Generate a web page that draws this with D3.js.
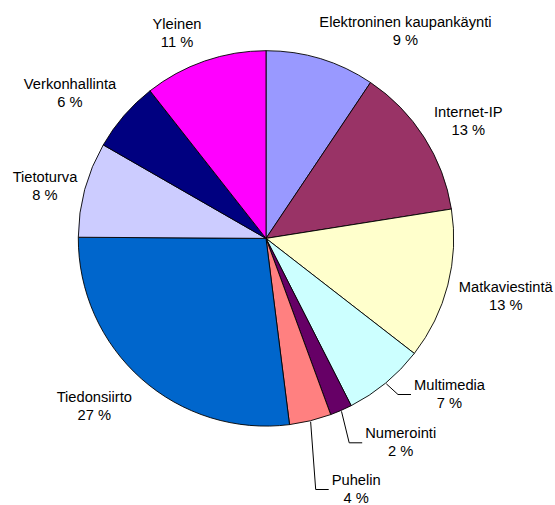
<!DOCTYPE html>
<html>
<head>
<meta charset="utf-8">
<script src="https://cdn.jsdelivr.net/npm/d3@7"></script>
<style>
  html, body { margin: 0; padding: 0; background: #fff; }
  svg { display: block; }
  text { font-family: "Liberation Sans", Arial, sans-serif; font-size: 14.7px; fill: #000; }
</style>
</head>
<body>
<svg id="chart" width="555" height="505"></svg>
<script>
// ---- data ----
const categories = ["Elektroninen kaupankäynti", "Internet-IP", "Matkaviestintä", "Multimedia",
  "Numerointi", "Puhelin", "Tiedonsiirto", "Tietoturva", "Verkonhallinta", "Yleinen"];
const values = [9.4, 13.1, 13.0, 7.0, 1.9, 3.6, 27.1, 8.2, 6.1, 10.6];
const colors = ["#9999FF", "#993366", "#FFFFCC", "#CCFFFF", "#660066",
  "#FF8080", "#0066CC", "#CCCCFF", "#000080", "#FF00FF"];

// ---- layout (label anchor offsets from pie centre: centre x, first baseline) ----
const labelOffsets = [[139.5, -211.1], [202.3, -121.1], [239.8, 53.9], [183.5, 151.6],
  [134.7, 199.9], [90.2, 246.6], [-171.7, 163.3], [-221, -56.7], [-196, -149.9], [-89, -209.1]];
const hasLeader = [false, false, false, true, true, true, false, false, false, false];

const W = 555, H = 505;
const cx = 266, cy = 238.4, R = 187.7;
const lineGap = 18;

const svg = d3.select("#chart");
const g = svg.append("g").attr("transform", `translate(${cx},${cy})`);

const total = d3.sum(values);
const data = categories.map((c, i) => ({ name: c, value: values[i], color: colors[i], i }));

const pie = d3.pie().value(d => d.value).sort(null);
const arcs = pie(data);
const arc = d3.arc().innerRadius(0).outerRadius(R);

g.selectAll("path.slice").data(arcs).join("path")
  .attr("class", "slice")
  .attr("d", arc)
  .attr("fill", d => d.data.color)
  .attr("stroke", "#000")
  .attr("stroke-width", 0.9)
  .attr("stroke-linejoin", "round");

function measure(str) {
  const t = svg.append("text").text(str);
  const w = t.node().getComputedTextLength();
  t.remove();
  return w;
}

// leaders
arcs.forEach((a, k) => {
  if (!hasLeader[k]) return;
  const mid = (a.startAngle + a.endAngle) / 2;
  const p0 = [Math.sin(mid) * (R + 1), -Math.cos(mid) * (R + 1)];
  const [lx, ly] = labelOffsets[k];
  const tw = measure(a.data.name);
  const endX = lx - tw / 2 - 3;
  const y = ly + 4.5;
  const elbowX = endX - 13;
  g.append("path")
    .attr("d", d3.line()([p0, [elbowX, y], [endX, y]]))
    .attr("fill", "none")
    .attr("stroke", "#000")
    .attr("stroke-width", 1);
});

// labels
arcs.forEach((a, k) => {
  const [lx, ly] = labelOffsets[k];
  const pct = Math.round(a.data.value / total * 100) + " %";
  const t = g.append("text").attr("text-anchor", "middle");
  t.append("tspan").attr("x", lx).attr("y", ly).text(a.data.name);
  t.append("tspan").attr("x", lx).attr("y", ly + lineGap).text(pct);
});
</script>
</body>
</html>
